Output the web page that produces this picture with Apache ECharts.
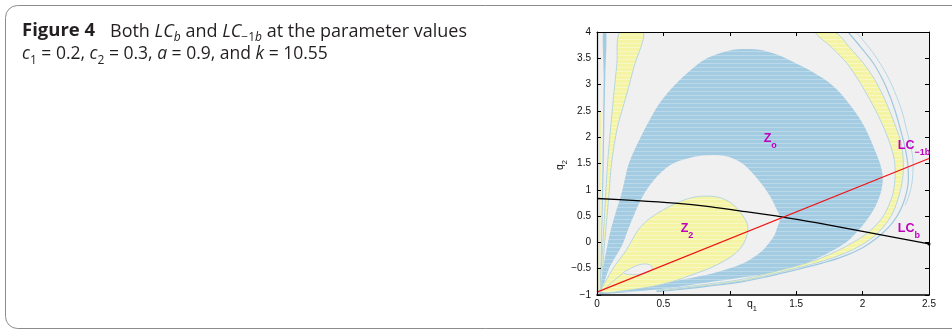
<!DOCTYPE html>
<html>
<head>
<meta charset="utf-8">
<script src="https://cdn.jsdelivr.net/npm/echarts@6/dist/echarts.min.js"></script>
<style>
  html, body { margin: 0; padding: 0; background: #fff; }
  #chart { width: 952px; height: 330px; }
</style>
</head>
<body>
<div id="chart"></div>
<script>
// axis ticks
const xTicks = [0, 0.5, 1, 1.5, 2, 2.5]
const xTickLabels = ['0', '0.5', '1', '1.5', '2', '2.5']
const yTicks = [-1, -0.5, 0, 0.5, 1, 1.5, 2, 2.5, 3, 3.5, 4]
const yTickLabels = ['−1', '−0.5', '0', '0.5', '1', '1.5', '2', '2.5', '3', '3.5', '4']

// basin outlines, in (q1, q2)
const zoOuter = [[0.015,-0.97],[0.03,-0.7],[0.05,-0.42],[0.075,-0.1],[0.1,0.2],[0.14,0.56],[0.18,0.88],[0.21,1.2],[0.24,1.5],[0.3,1.85],[0.38,2.25],[0.47,2.64],[0.57,2.95],[0.68,3.22],[0.8,3.46],[0.93,3.6],[1.06,3.67],[1.19,3.67],[1.32,3.6],[1.47,3.44],[1.63,3.23],[1.78,2.97],[1.91,2.6],[2.01,2.22],[2.085,1.8],[2.14,1.42],[2.15,1.12],[2.11,0.76],[2.03,0.42],[1.9,0.05],[1.8,-0.12],[1.66,-0.3],[1.5,-0.46],[1.33,-0.57],[1.08,-0.67],[0.83,-0.76],[0.56,-0.86],[0.3,-0.93],[0.1,-0.97]]
const zoHole = [[0.03,-0.93],[0.06,-0.72],[0.09,-0.5],[0.14,-0.27],[0.19,-0.05],[0.235,0.25],[0.285,0.56],[0.34,0.86],[0.41,1.13],[0.49,1.35],[0.58,1.51],[0.69,1.6],[0.8,1.65],[0.92,1.655],[1.02,1.6],[1.1,1.49],[1.17,1.32],[1.24,1.11],[1.3,0.89],[1.345,0.67],[1.378,0.47],[1.36,0.3],[1.335,0.13],[1.29,-0.03],[1.235,-0.18],[1.15,-0.33],[1.06,-0.44],[0.94,-0.54],[0.81,-0.625],[0.62,-0.72],[0.42,-0.81],[0.22,-0.89],[0.06,-0.95]]
const z2Area = [[0.03,-0.93],[0.07,-0.72],[0.12,-0.5],[0.17,-0.32],[0.22,-0.15],[0.27,0.07],[0.32,0.27],[0.4,0.46],[0.5,0.62],[0.61,0.76],[0.72,0.855],[0.82,0.88],[0.91,0.86],[0.99,0.78],[1.05,0.66],[1.1,0.5],[1.135,0.32],[1.13,0.15],[1.1,-0.04],[1.05,-0.19],[0.98,-0.32],[0.9,-0.43],[0.82,-0.52],[0.7,-0.63],[0.6,-0.72],[0.47,-0.81],[0.34,-0.87],[0.2,-0.92],[0.07,-0.96]]
const z2Loop = [[0.2,-0.58],[0.25,-0.5],[0.3,-0.44],[0.36,-0.41],[0.405,-0.44],[0.415,-0.5],[0.39,-0.56],[0.34,-0.6],[0.27,-0.61]]
const loopTail = [[0.2,-0.58],[0.12,-0.74],[0.05,-0.9]]
const bandRight = [[1.645,4],[1.77,3.7],[1.88,3.41],[1.965,3.1],[2.04,2.78],[2.11,2.45],[2.165,2.15],[2.21,1.85],[2.24,1.55],[2.245,1.25],[2.23,0.94],[2.2,0.72],[2.156,0.5],[2.09,0.3],[2.005,0.12],[1.92,-0.01],[1.83,-0.135],[1.66,-0.325],[1.5,-0.45],[1.3,-0.58],[1.075,-0.71],[0.81,-0.8],[0.6,-0.865],[0.45,-0.905],
  [0.45,-0.925],[0.6,-0.885],[0.81,-0.825],[1.075,-0.74],[1.3,-0.615],[1.5,-0.49],[1.68,-0.37],[1.8,-0.27],[1.93,-0.135],[2.09,0.12],[2.215,0.5],[2.28,0.94],[2.305,1.3],[2.305,1.6],[2.29,1.9],[2.257,2.15],[2.21,2.46],[2.156,2.78],[2.09,3.1],[2.005,3.41],[1.905,3.7],[1.79,4]]
const arcInner = [[1.89,4],[1.99,3.7],[2.08,3.41],[2.15,3.1],[2.206,2.78],[2.25,2.46],[2.285,2.15],[2.32,1.8],[2.34,1.5],[2.345,1.2],[2.33,0.94],[2.3,0.7],[2.255,0.48],[2.19,0.27],[2.1,0.07],[2.0,-0.1],[1.86,-0.26],[1.7,-0.39],[1.5,-0.52],[1.3,-0.64],[1.08,-0.755],[0.81,-0.84],[0.6,-0.9],[0.45,-0.935]]
const arcOuter = [[1.95,4],[2.05,3.7],[2.13,3.41],[2.2,3.1],[2.255,2.78],[2.3,2.46],[2.33,2.15],[2.365,1.8],[2.38,1.5],[2.375,1.2],[2.355,0.94],[2.32,0.7]]
const bandLeft = [[0.173,4],[0.15,3.4],[0.125,2.78],[0.1,2.1],[0.08,1.51],[0.067,1.0],[0.054,0.4],[0.04,-0.2],[0.028,-0.6],[0.02,-0.92],[0.028,-0.92],[0.042,-0.5],[0.058,0.0],[0.072,0.4],[0.09,0.9],[0.11,1.51],[0.155,2.2],[0.22,2.78],[0.28,3.35],[0.349,4]]
const stripLeft = [[0.045,4],[0.07,4],[0.063,3.2],[0.056,2.3],[0.05,1.4],[0.042,0.5],[0.034,-0.3],[0.026,-0.9],[0.021,-0.9],[0.028,-0.3],[0.035,0.5],[0.041,1.4],[0.046,2.3],[0.05,3.2]]
const lineNearAxis = [[0.023,2.5],[0.021,1.0],[0.018,-0.95]]

// the two curves
const lcB = [[0,0.835],[0.3,0.795],[0.587,0.745],[0.83,0.685],[1.06,0.605],[1.39,0.487],[1.66,0.37],[2.04,0.19],[2.5,-0.03]]
const lcM1b = [[0,-0.945],[2.5,1.595]]

// label anchors (left edge, baseline)
const labelZo = [1.255, 1.9]
const labelZ2 = [0.63, 0.19]
const labelLcM1b = [2.265, 1.77]
const labelLcB = [2.265, 0.19]

const GRAY = '#f0f0f0'
const BLUE_EDGE = '#a9cfe4'
const MAGENTA = '#bf00bf'

function stripeFill(base, light, period) {
    const c = document.createElement('canvas')
    c.width = 4
    c.height = period
    const g = c.getContext('2d')
    g.fillStyle = base
    g.fillRect(0, 0, 4, period)
    g.fillStyle = light
    g.fillRect(0, period - 1, 4, 1)
    return { image: c, repeat: 'repeat' }
}
const blueFill = stripeFill('#a3cbe2', '#bcd9ea', 4)
const yellowFill = stripeFill('#f4f4a4', '#f8f8c4', 4)

function area(name, pts, fill, stroke, smooth) {
    return {
        type: 'custom',
        name,
        data: pts,
        silent: true,
        clip: true,
        renderItem: (params, api) => {
            if (params.dataIndex !== 0) return null
            return {
                type: 'polygon',
                shape: { points: pts.map(p => api.coord(p)), smooth },
                style: { fill, stroke: stroke || null, lineWidth: stroke ? 0.8 : 0 },
            }
        },
    }
}

function curve(name, pts, color, width, smooth) {
    return {
        type: 'line',
        name,
        data: pts,
        symbol: 'none',
        smooth,
        silent: true,
        clip: true,
        lineStyle: { color, width },
    }
}

const tickFont = { fontFamily: 'Liberation Sans', fontSize: 10, color: '#111' }
const axisBase = {
    type: 'value',
    z: 10,
    splitLine: { show: false },
    axisTick: { show: true, inside: true, length: 4, lineStyle: { color: '#000', width: 1 } },
}
const lineStyleW = w => ({ show: true, onZero: false, lineStyle: { color: '#000', width: w } })

const chart = echarts.init(document.getElementById('chart'))

const lcBSeries = curve('LCb', lcB, '#000', 1.3, 0.3)
lcBSeries.data = lcB.map((p, i) => i === lcB.length - 1 ? { value: p, symbol: 'circle', symbolSize: 3 } : p)
lcBSeries.showSymbol = true
lcBSeries.itemStyle = { color: '#000' }

const option = {
    animation: false,
    grid: { left: 597, top: 32, width: 332, height: 263, show: true, backgroundColor: GRAY, borderWidth: 0 },
    xAxis: [
        {
            ...axisBase, min: 0, max: 2.5, interval: 0.5, position: 'bottom',
            axisLine: lineStyleW(1.6),
            axisLabel: { ...tickFont, margin: 4, formatter: v => xTickLabels[xTicks.findIndex(t => Math.abs(t - v) < 1e-6)] },
        },
        { ...axisBase, min: 0, max: 2.5, interval: 0.5, position: 'top', axisLine: lineStyleW(1), axisLabel: { show: false } },
    ],
    yAxis: [
        {
            ...axisBase, min: -1, max: 4, interval: 0.5, position: 'left',
            axisLine: lineStyleW(1.2),
            axisLabel: { ...tickFont, margin: 6, formatter: v => yTickLabels[yTicks.findIndex(t => Math.abs(t - v) < 1e-6)] },
        },
        { ...axisBase, min: -1, max: 4, interval: 0.5, position: 'right', axisLine: lineStyleW(1), axisLabel: { show: false } },
    ],
    series: [
        area('Zo', zoOuter, blueFill, null, 0.35),
        area('hole', zoHole, GRAY, null, 0.35),
        area('Z2', z2Area, yellowFill, BLUE_EDGE, 0.35),
        area('loop', z2Loop, GRAY, BLUE_EDGE, 0.4),
        curve('loopTail', loopTail, BLUE_EDGE, 0.8, 0.3),
        area('bandRight', bandRight, yellowFill, BLUE_EDGE, 0.3),
        curve('arcInner', arcInner, '#9fc8e0', 1.2, 0.4),
        curve('arcOuter', arcOuter, '#b6d6e8', 1, 0.4),
        area('bandLeft', bandLeft, yellowFill, BLUE_EDGE, 0.3),
        area('stripLeft', stripLeft, '#a3cbe2', null, 0.3),
        curve('nearAxis', lineNearAxis, '#f0f08c', 1.5, 0.3),
        lcBSeries,
        curve('LC-1b', lcM1b, '#f01414', 1.2, false),
    ],
}
chart.setOption(option)

// text runs laid out piece by piece (for sub-scripts)
const mctx = document.createElement('canvas').getContext('2d')
function runs(x, baseline, pieces) {
    const out = []
    pieces.forEach(p => {
        const font = `${p.it ? 'italic' : 'normal'} ${p.b ? 'bold' : 'normal'} ${p.size}px ${p.fam}`
        mctx.font = font
        const m = mctx.measureText(p.t)
        const mid = m.fontBoundingBoxAscent !== undefined
            ? (m.fontBoundingBoxAscent - m.fontBoundingBoxDescent) / 2
            : p.size * 0.35
        out.push({
            type: 'text', x, y: baseline + (p.dy || 0) - mid, z: 100,
            style: { text: p.t, font, fill: p.c, verticalAlign: 'middle', align: 'left' },
        })
        x += m.width
    })
    return out
}

const CAP = "'Open Sans'"
const CAPC = '#231f20'
const cap = (t, o = {}) => ({ t, size: 17.5, fam: CAP, c: CAPC, ...o })
const capSub = (t, o = {}) => ({ t, size: 12, fam: CAP, c: CAPC, dy: 4, ...o })
const line1a = [cap('Figure 4', { b: 1, size: 18.5 })]
const line1b = [cap('Both ', { size: 18 }), cap('LC', { it: 1, size: 18 }), capSub('b', { it: 1 }), cap(' and ', { size: 18 }),
    cap('LC', { it: 1, size: 18 }), capSub('−1'), capSub('b', { it: 1 }), cap(' at the parameter values', { size: 18 })]
const line2 = [cap('c', { it: 1 }), capSub('1'), cap(' = 0.2, '), cap('c', { it: 1 }), capSub('2'), cap(' = 0.3, '),
    cap('a', { it: 1 }), cap(' = 0.9, and '), cap('k', { it: 1 }), cap(' = 10.55')]

const LF = "'Liberation Sans'"
const big = t => ({ t, size: 12.5, fam: LF, c: MAGENTA, b: 1 })
const small = t => ({ t, size: 9, fam: LF, c: MAGENTA, b: 1, dy: 6 })
const toPx = p => chart.convertToPixel({ gridIndex: 0 }, p)

const labelEls = []
;[[labelZo, [big('Z'), small('o')]], [labelZ2, [big('Z'), small('2')]],
  [labelLcM1b, [big('LC'), small('−1b')]], [labelLcB, [big('LC'), small('b')]]].forEach(([a, pcs]) => {
    const [x, y] = toPx(a)
    labelEls.push(...runs(x, y, pcs))
})

const qPieces = n => [{ t: 'q', size: 10.5, fam: LF, c: '#111' }, { t: n, size: 7.5, fam: LF, c: '#111', dy: 3.5 }]

chart.setOption({
    graphic: {
        elements: [
            { type: 'rect', z: 100, shape: { x: 5.5, y: 5.5, width: 1000, height: 323, r: 12 },
              style: { fill: 'none', stroke: '#8c8c8c', lineWidth: 1 } },
            ...runs(22, 38.5, line1a),
            ...runs(110, 38.5, line1b),
            ...runs(22, 61.5, line2),
            ...labelEls,
            ...runs(747, 308, qPieces('1')),
            { type: 'group', x: 564, y: 170, rotation: Math.PI / 2, z: 100, children: runs(0, 0, qPieces('2')) },
        ],
    },
})
</script>
</body>
</html>
